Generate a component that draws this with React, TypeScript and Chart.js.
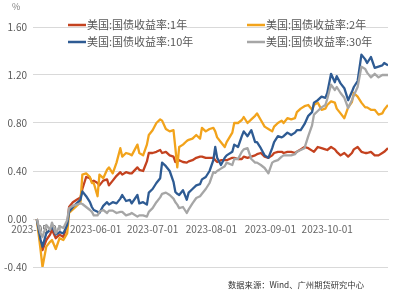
import React, { useEffect, useRef } from "react";
import { Chart, registerables } from "chart.js";

Chart.register(...registerables);

const dates = [
  "2023-05-01", "2023-05-03", "2023-05-04", "2023-05-06", "2023-05-08", "2023-05-09", "2023-05-11", "2023-05-13", "2023-05-15", "2023-05-17",
  "2023-05-18", "2023-05-20", "2023-05-22", "2023-05-24", "2023-05-25", "2023-05-27", "2023-05-29", "2023-05-30", "2023-05-31", "2023-06-02",
  "2023-06-03", "2023-06-05", "2023-06-07", "2023-06-08", "2023-06-10", "2023-06-12", "2023-06-14", "2023-06-15", "2023-06-17", "2023-06-19",
  "2023-06-20", "2023-06-23", "2023-06-24", "2023-06-26", "2023-06-28", "2023-06-29", "2023-07-01", "2023-07-03", "2023-07-05", "2023-07-06",
  "2023-07-08", "2023-07-10", "2023-07-12", "2023-07-13", "2023-07-14", "2023-07-15", "2023-07-17", "2023-07-19", "2023-07-20", "2023-07-22",
  "2023-07-24", "2023-07-26", "2023-07-27", "2023-07-29", "2023-07-31", "2023-08-02", "2023-08-03", "2023-08-04", "2023-08-06", "2023-08-08",
  "2023-08-09", "2023-08-12", "2023-08-13", "2023-08-15", "2023-08-17", "2023-08-18", "2023-08-20", "2023-08-22", "2023-08-24", "2023-08-25",
  "2023-08-27", "2023-08-29", "2023-08-31", "2023-09-02", "2023-09-03", "2023-09-05", "2023-09-07", "2023-09-08", "2023-09-10", "2023-09-12",
  "2023-09-14", "2023-09-15", "2023-09-17", "2023-09-19", "2023-09-21", "2023-09-23", "2023-09-24", "2023-09-26", "2023-09-28", "2023-09-30",
  "2023-10-01", "2023-10-03", "2023-10-05", "2023-10-06", "2023-10-08", "2023-10-10", "2023-10-12", "2023-10-14", "2023-10-15", "2023-10-17",
  "2023-10-19", "2023-10-21", "2023-10-22", "2023-10-24", "2023-10-26", "2023-10-28", "2023-10-30", "2023-10-31", "2023-11-02",
];

const yield1Y = [
  0, -0.2, -0.26, -0.175, -0.13, -0.09, -0.16, -0.13, -0.15, -0.05,
  0.1, 0.14, 0.16, 0.18, 0.25, 0.35, 0.34, 0.31, 0.32, 0.3,
  0.28, 0.32, 0.33, 0.28, 0.32, 0.36, 0.39, 0.37, 0.39, 0.38,
  0.38, 0.43, 0.41, 0.4, 0.48, 0.55, 0.55, 0.56, 0.575, 0.55,
  0.56, 0.53, 0.52, 0.475, 0.48, 0.49, 0.475, 0.47, 0.48, 0.49,
  0.51, 0.52, 0.52, 0.51, 0.51, 0.51, 0.49, 0.475, 0.49, 0.49,
  0.49, 0.51, 0.51, 0.5, 0.5, 0.52, 0.51, 0.52, 0.53, 0.54,
  0.55, 0.52, 0.51, 0.53, 0.55, 0.56, 0.56, 0.55, 0.56, 0.56,
  0.55, 0.56, 0.58, 0.6, 0.59, 0.57, 0.56, 0.6, 0.59, 0.58,
  0.575, 0.6, 0.58, 0.56, 0.53, 0.55, 0.52, 0.55, 0.58, 0.6,
  0.56, 0.55, 0.55, 0.56, 0.53, 0.53, 0.55, 0.56, 0.59,
];

const yield2Y = [
  0, -0.26, -0.4, -0.23, -0.19, -0.175, -0.25, -0.16, -0.175, -0.12,
  0.05, 0.08, 0.11, 0.14, 0.37, 0.38, 0.35, 0.3, 0.3, 0.19,
  0.37, 0.34, 0.41, 0.43, 0.38, 0.47, 0.59, 0.52, 0.55, 0.54,
  0.53, 0.62, 0.55, 0.53, 0.62, 0.7, 0.74, 0.8, 0.83, 0.82,
  0.75, 0.73, 0.74, 0.59, 0.43, 0.6, 0.62, 0.65, 0.66, 0.67,
  0.7, 0.67, 0.76, 0.73, 0.75, 0.76, 0.73, 0.68, 0.64, 0.6,
  0.64, 0.72, 0.8, 0.8, 0.825, 0.85, 0.8, 0.83, 0.86, 0.88,
  0.825, 0.77, 0.75, 0.73, 0.77, 0.8, 0.82, 0.8, 0.84, 0.83,
  0.84, 0.89, 0.92, 0.94, 0.95, 0.91, 0.95, 0.97, 0.91, 0.92,
  0.95, 0.98, 0.97, 0.92, 0.88, 0.84, 0.93, 0.975, 1.05, 1.02,
  0.97, 0.93, 0.93, 0.91, 0.91, 0.87, 0.88, 0.91, 0.95,
];

const yield10Y = [
  0, -0.175, -0.23, -0.12, -0.09, -0.06, -0.13, -0.11, -0.12, -0.05,
  0.06, 0.1, 0.13, 0.16, 0.23, 0.19, 0.14, 0.1, 0.075, 0.06,
  0.05, 0.11, 0.14, 0.12, 0.14, 0.13, 0.17, 0.2, 0.15, 0.16,
  0.13, 0.2, 0.13, 0.14, 0.12, 0.22, 0.25, 0.3, 0.34, 0.47,
  0.44, 0.4, 0.31, 0.225, 0.21, 0.2, 0.24, 0.16, 0.22, 0.25,
  0.28, 0.29, 0.33, 0.35, 0.4, 0.49, 0.6, 0.51, 0.45, 0.51,
  0.53, 0.56, 0.62, 0.6, 0.69, 0.73, 0.69, 0.74, 0.64, 0.64,
  0.59, 0.53, 0.51, 0.59, 0.64, 0.69, 0.68, 0.69, 0.72, 0.7,
  0.72, 0.74, 0.74, 0.79, 0.86, 0.89, 0.97, 0.99, 1.02, 1.01,
  1.05, 1.21, 1.14, 1.19, 1.13, 1.09, 0.99, 1.06, 1.1, 1.15,
  1.37, 1.33, 1.3, 1.35, 1.26, 1.27, 1.28, 1.3, 1.28,
];

const yield30Y = [
  0, -0.12, -0.15, -0.05, -0.09, -0.03, -0.12, -0.06, -0.075, -0.01,
  0.09, 0.11, 0.12, 0.13, 0.125, 0.1, 0.075, 0.06, 0.03, 0.03,
  0.06, 0.075, 0.05, 0.07, 0.07, 0.05, 0.06, 0.06, 0.03, 0.04,
  0.05, 0.02, 0.03, 0.03, 0.02, 0.06, 0.09, 0.14, 0.18, 0.21,
  0.22, 0.2, 0.17, 0.14, 0.12, 0.09, 0.1, 0.05, 0.08, 0.13,
  0.175, 0.19, 0.21, 0.25, 0.3, 0.39, 0.385, 0.4, 0.42, 0.44,
  0.47, 0.45, 0.5, 0.5, 0.56, 0.58, 0.59, 0.5, 0.47, 0.47,
  0.45, 0.425, 0.38, 0.47, 0.48, 0.49, 0.52, 0.53, 0.53, 0.53,
  0.54, 0.56, 0.575, 0.59, 0.69, 0.78, 0.87, 0.9, 0.93, 0.95,
  1.0, 1.12, 1.075, 1.1, 1.05, 1.01, 0.925, 0.99, 1.03, 1.1,
  1.27, 1.25, 1.22, 1.18, 1.21, 1.18, 1.2, 1.2, 1.2,
];

const seriesNames = ["美国:国债收益率:1年", "美国:国债收益率:2年", "美国:国债收益率:10年", "美国:国债收益率:30年"];
const seriesColors = ["#C4421F", "#F2A31B", "#2E5B93", "#A6A6A6"];
const monthTicks = ["2023-05-01", "2023-06-01", "2023-07-01", "2023-08-01", "2023-09-01", "2023-10-01"];
const yTicks = [-0.4, 0, 0.4, 0.8, 1.2, 1.6];
const unitLabel = "%";
const sourceNote = "数据来源：Wind、广州期货研究中心";

const BASE = Date.parse(dates[0]);
const toDay = (d: string) => Math.round((Date.parse(d) - BASE) / 86400000);

const FONT = '"Noto Sans CJK SC", "Noto Sans", sans-serif';

const overlayPlugin = {
  id: "overlayText",
  afterDraw(chart: any) {
    const ctx = chart.ctx;
    ctx.save();
    // unit label
    ctx.font = `9px ${FONT}`;
    ctx.fillStyle = "#7F7F7F";
    ctx.textAlign = "left";
    ctx.textBaseline = "middle";
    ctx.fillText(unitLabel, 12, 7);
    // legend (2 columns x 2 rows)
    const cols = [68, 247];
    const rows = [25, 42];
    chart.data.datasets.forEach((ds: any, i: number) => {
      const x = cols[i % 2];
      const y = rows[Math.floor(i / 2)];
      ctx.strokeStyle = ds.borderColor;
      ctx.lineWidth = 2.5;
      ctx.beginPath();
      ctx.moveTo(x, y);
      ctx.lineTo(x + 18, y);
      ctx.stroke();
      ctx.font = `11px ${FONT}`;
      ctx.fillStyle = "#595959";
      ctx.textAlign = "left";
      ctx.textBaseline = "middle";
      ctx.fillText(ds.label, x + 19, y);
    });
    // source note, fitted to its width in the reference
    let size = 9;
    ctx.font = `${size}px ${FONT}`;
    const w = ctx.measureText(sourceNote).width;
    if (w > 136) {
      size = (size * 136) / w;
      ctx.font = `${size.toFixed(2)}px ${FONT}`;
    }
    ctx.fillStyle = "#333333";
    ctx.textAlign = "left";
    ctx.textBaseline = "middle";
    ctx.fillText(sourceNote, 228, 285);
    ctx.restore();
  },
};

export default function App() {
  const ref = useRef<HTMLCanvasElement | null>(null);

  useEffect(() => {
    document.body.style.margin = "0";
    const canvas = ref.current;
    if (!canvas) return;
    const xs = dates.map(toDay);
    const series = [yield1Y, yield2Y, yield10Y, yield30Y];
    const chart = new Chart(canvas, {
      type: "line",
      data: {
        datasets: series.map((vals, i) => ({
          label: seriesNames[i],
          data: vals.map((v, j) => ({ x: xs[j], y: v })),
          borderColor: seriesColors[i],
          backgroundColor: seriesColors[i],
          borderWidth: 2.3,
          pointRadius: 0,
          tension: 0,
          borderJoinStyle: "round" as const,
          order: 4 - i,
        })),
      },
      options: {
        responsive: false,
        animation: false,
        layout: { padding: { left: 0, top: 27, right: 8, bottom: 24 } },
        plugins: {
          legend: { display: false },
          tooltip: { enabled: false },
          title: { display: false },
        },
        scales: {
          x: {
            type: "linear",
            position: { y: 0 } as any,
            min: -2,
            max: toDay(dates[dates.length - 1]),
            grid: { display: false, drawTicks: false },
            border: { display: true, color: "#D9D9D9" },
            afterBuildTicks: (scale: any) => {
              scale.ticks = monthTicks.map((d) => ({ value: toDay(d) }));
            },
            ticks: {
              autoSkip: false,
              maxRotation: 0,
              padding: 4,
              color: "#666666",
              font: { family: FONT, size: 10 },
              callback: (value: any) => {
                const m = monthTicks.find((d) => toDay(d) === value);
                return m ?? "";
              },
            },
          },
          y: {
            type: "linear",
            min: yTicks[0],
            max: yTicks[yTicks.length - 1],
            afterBuildTicks: (scale: any) => {
              scale.ticks = yTicks.map((v) => ({ value: v }));
            },
            afterFit: (scale: any) => {
              scale.width = 33;
            },
            grid: { color: "#D9D9D9", lineWidth: 1, drawTicks: false },
            border: { display: false },
            ticks: {
              padding: 6,
              color: "#595959",
              font: { family: FONT, size: 10 },
              callback: (value: any) => Number(value).toFixed(2),
            },
          },
        },
      },
      plugins: [overlayPlugin],
    });
    return () => chart.destroy();
  }, []);

  return (
    <div style={{ width: 396, height: 291, background: "#fff" }}>
      <canvas ref={ref} width={396} height={291} style={{ display: "block" }} />
    </div>
  );
}
